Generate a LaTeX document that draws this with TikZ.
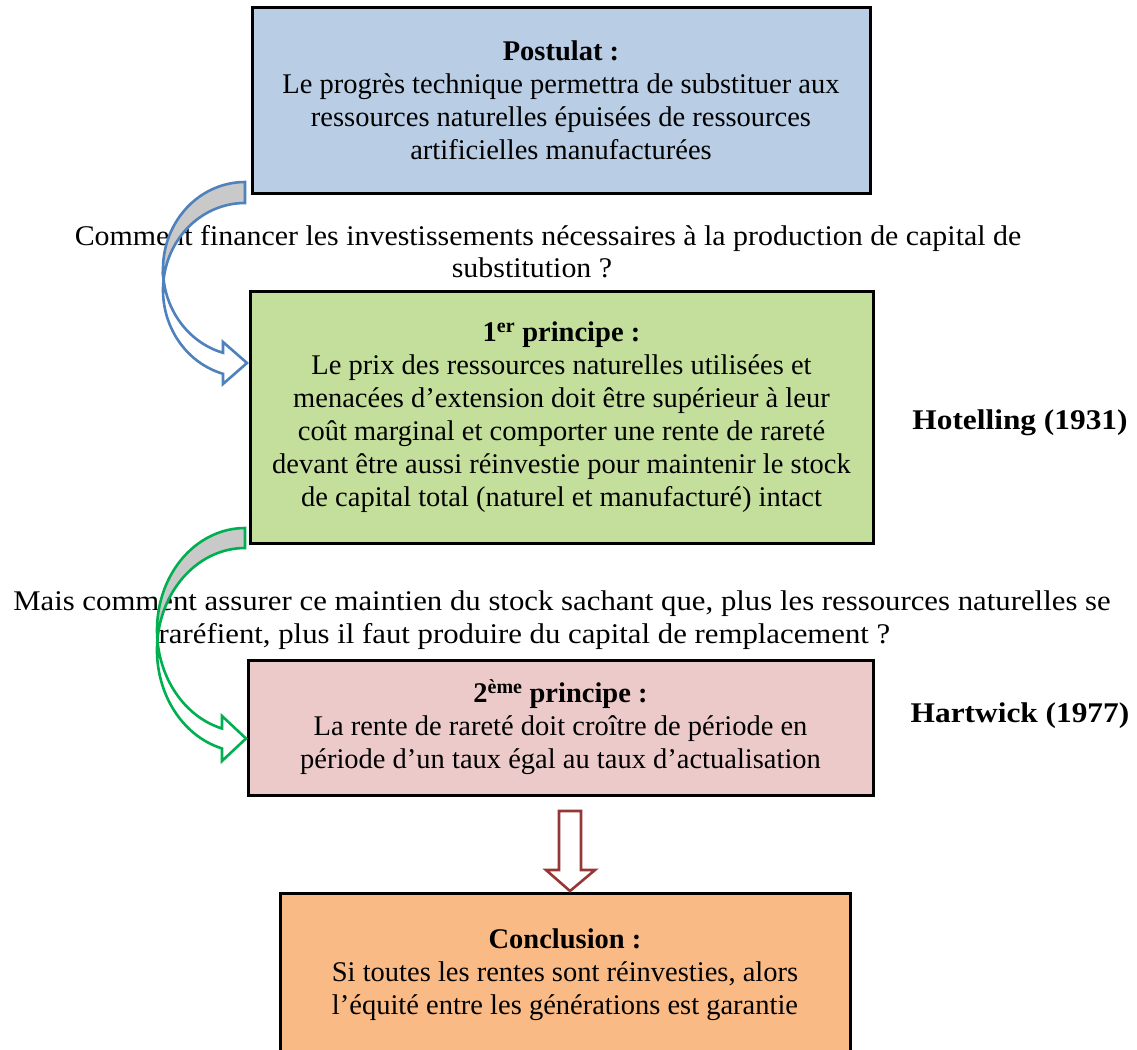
\documentclass[tikz,border=0pt]{standalone}
\usepackage{fontspec}
\setmainfont{Liberation Serif}
\definecolor{bluefill}{HTML}{B9CDE5}
\definecolor{greenfill}{HTML}{C3DF9B}
\definecolor{pinkfill}{HTML}{ECCACA}
\definecolor{orangefill}{HTML}{F9BA85}
\definecolor{blueline}{HTML}{4F81BD}
\definecolor{greenline}{HTML}{00B050}
\definecolor{redline}{HTML}{953735}
\definecolor{shadegray}{HTML}{C9C9C9}
\tikzset{
  txt/.style={font=\fontsize{28.5}{33}\selectfont, align=center, inner sep=0pt},
  boxnode/.style={draw=black, line width=3pt, inner sep=0pt, txt},
  author/.style={font=\fontsize{28.5}{33}\selectfont\bfseries\addfontfeature{FakeStretch=1.10}, inner sep=0pt},
  curveblue/.style={draw=blueline, line width=2.6pt, line join=miter},
  curvegreen/.style={draw=greenline, line width=2.6pt, line join=miter},
  downarrow/.style={draw=redline, line width=2.6pt, fill=white, line join=miter}
}
\begin{document}
\begin{tikzpicture}[x=1pt,y=-1pt]
\useasboundingbox (0,0) rectangle (1137,1049);
\clip (0,0) rectangle (1137,1049);
\fill[white] (0,0) rectangle (1137,1049);

% boxes
\node[boxnode, fill=bluefill, minimum width=618pt, minimum height=185pt] (post) at (561,100.5)
  {\textbf{Postulat :}\\Le progrès technique permettra de substituer aux\\ressources naturelles épuisées de ressources\\artificielles manufacturées};
\node[boxnode, fill=greenfill, minimum width=623pt, minimum height=252pt] (p1) at (561.5,417)
  {\textbf{1\textsuperscript{er} principe :}\\Le prix des ressources naturelles utilisées et\\menacées d’extension doit être supérieur à leur\\coût marginal et comporter une rente de rareté\\devant être aussi réinvestie pour maintenir le stock\\de capital total (naturel et manufacturé) intact};
\node[boxnode, fill=pinkfill, minimum width=625pt, minimum height=135pt] (p2) at (560.5,727.5)
  {\textbf{2\textsuperscript{ème} principe :}\\La rente de rareté doit croître de période en\\période d’un taux égal au taux d’actualisation};
\node[boxnode, fill=orangefill, minimum width=570pt, minimum height=163pt] (concl) at (565,974.5)
  {\textbf{Conclusion :}\\Si toutes les rentes sont réinvesties, alors\\l’équité entre les générations est garantie};

% questions
\node[txt, font=\fontsize{28.5}{32}\selectfont\addfontfeature{FakeStretch=1.049}] (q1) at (548,252)
  {Comment financer les investissements nécessaires à la production de capital de\\substitution ?\hspace*{32pt}};
\node[txt, font=\fontsize{28.5}{33}\selectfont\addfontfeature{FakeStretch=1.08}] (q2) at (562,620.5)
  {Mais comment assurer ce maintien du stock sachant que, plus les ressources naturelles se\\raréfient, plus il faut produire du capital de remplacement ?\hspace*{75pt}};

% authors
\node[author] (hot) at (1020,423) {Hotelling (1931)};
\node[author] (har) at (1020,716) {Hartwick (1977)};

% blue curved arrow
\draw[curveblue, fill=shadegray] (245,182)
  arc[start angle=270, end angle=173.07, x radius=82, y radius=87]
  arc[start angle=186.93, end angle=270, x radius=82, y radius=87] -- cycle;
\draw[curveblue, fill=white] (163.6,279.5)
  arc[start angle=186.93, end angle=105.56, x radius=82, y radius=87]
  -- (223,384) -- (247,363) -- (223,342) -- (223,352.8)
  arc[start angle=105.56, end angle=173.07, x radius=82, y radius=87] -- cycle;

% green curved arrow
\draw[curvegreen, fill=shadegray] (245,528)
  arc[start angle=270, end angle=174.37, x radius=88, y radius=102]
  arc[start angle=185.63, end angle=270, x radius=88, y radius=102] -- cycle;
\draw[curvegreen, fill=white] (157.4,640)
  arc[start angle=185.63, end angle=105.15, x radius=88, y radius=102]
  -- (222,761) -- (246,738.5) -- (222,716) -- (222,728.5)
  arc[start angle=105.15, end angle=174.37, x radius=88, y radius=102] -- cycle;

% down block arrow
\draw[downarrow] (559,811) -- (581,811) -- (581,870) -- (595,870) -- (570,891)
  -- (546,870) -- (559,870) -- cycle;
\end{tikzpicture}
\end{document}
